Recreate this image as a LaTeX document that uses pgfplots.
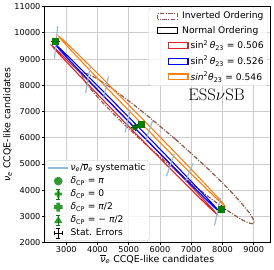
\documentclass[border=0pt]{standalone}
\usepackage{fontspec}
\usepackage{pgfplots}
\pgfplotsset{compat=1.18}
\newfontfamily\dejavu{DejaVu Sans}[ItalicFont={DejaVu Sans Oblique}]
\definecolor{mplred}{HTML}{D62728}
\definecolor{mplblue}{HTML}{0000FF}
\definecolor{mplorange}{HTML}{FF7F0E}
\definecolor{mplbrown}{HTML}{8C564B}
\definecolor{sysblue}{HTML}{8FBAD9}
\definecolor{mplgreen}{HTML}{008000}
\tikzset{ddot/.style={dash pattern=on 4.5pt off 1.5pt on 1pt off 1.5pt}}
\newcommand{\nub}{$\overline{\hbox{\itshape ν}}$\textsubscript{\itshape e}}
\newcommand{\nue}{{\itshape ν}\textsubscript{\itshape e}}
\newcommand{\dcp}{{\itshape δ}\textsubscript{CP}}
\newcommand{\bbA}{\path[draw=none,fill=none] (0pt,-4pt) (20pt,4pt);}
\newcommand{\bbB}{\path[draw=none,fill=none] (-7pt,-4pt) (31pt,4pt);}
\begin{document}
\begin{tikzpicture}
\begin{axis}[
  name=main,
  scale only axis, width=230.5pt, height=240.3pt,
  xmin=2290, xmax=9540, ymin=2000, ymax=11000,
  xtick={3000,4000,...,9000}, ytick={2000,3000,...,11000},
  grid=major, major grid style={black!20, line width=0.8pt},
  tick align=outside, tick pos=left, major tick length=2.5pt,
  axis line style={line width=0.8pt},
  every tick/.style={black, line width=0.8pt},
  ticklabel style={font=\dejavu\fontsize{8.3}{9}\selectfont, inner sep=1pt},
  /pgf/number format/assume math mode=true,
  /pgf/number format/1000 sep={},
  scaled ticks=false,
  xlabel={\nub\ CCQE-like candidates},
  ylabel={\nue\ CCQE-like candidates},
  label style={font=\dejavu\fontsize{9.6}{11}\selectfont},
  xlabel style={yshift=2pt},
  ylabel style={yshift=-2pt},
  legend style={at={(0.007,0.008)}, anchor=south west, draw=black!15, fill=white, fill opacity=0.8, text opacity=1, rounded corners=2pt,
    font=\dejavu\fontsize{9.3}{10}\selectfont, inner xsep=2pt, inner ysep=1.5pt, row sep=0.8pt},
  legend cell align=left,
]
% Inverted ordering (brown dash-dot)
\addplot[forget plot, mplbrown, line width=1.2pt, ddot, smooth] coordinates {
(6503,5935) (5430,7004) (4484,7858) (3807,8369) (3503,8457) (3617,8111) (4134,7380) (4972,6380)
(6007,5259) (7080,4190) (8026,3336) (8703,2825) (9007,2737) (8893,3083) (8376,3814) (7538,4814) (6503,5935)};
% sin^2 = 0.506 (red)
\addplot[forget plot, mplred, line width=1.1pt, smooth] coordinates {
(5210,6348) (4197,7574) (3335,8604) (2752,9286) (2538,9514) (2724,9254) (3285,8544) (4131,7496)
(5138,6265) (6151,5039) (7013,4009) (7596,3327) (7811,3099) (7625,3359) (7064,4069) (6217,5117) (5210,6348)};
% sin^2 = 0.526 (blue)
\addplot[forget plot, mplblue, line width=1.1pt, smooth] coordinates {
(5299,6424) (4287,7645) (3426,8672) (2844,9352) (2629,9578) (2816,9320) (3376,8612) (4221,7567)
(5227,6340) (6239,5118) (7100,4091) (7682,3412) (7896,3185) (7710,3444) (7150,4151) (6305,5196) (5299,6424)};
% sin^2 = 0.546 (orange)
\addplot[forget plot, mplorange, line width=1.1pt, smooth] coordinates {
(5463,6689) (4444,7921) (3574,8956) (2983,9640) (2764,9865) (2949,9600) (3510,8882) (4360,7825)
(5373,6585) (6392,5353) (7262,4318) (7853,3634) (8072,3409) (7887,3674) (7326,4392) (6476,5449) (5463,6689)};
% systematic segments
\addplot[forget plot, sysblue, line width=1.2pt] coordinates {(2726,10262) (2623,9017)};
\addplot[forget plot, sysblue, line width=1.2pt] coordinates {(3777,8766) (3620,7709)};
\addplot[forget plot, sysblue, line width=1.2pt] coordinates {(4352,8333) (4195,7522)};
\addplot[forget plot, sysblue, line width=1.2pt] coordinates {(5044,7073) (4887,6213)};
\addplot[forget plot, sysblue, line width=1.2pt] coordinates {(5768,6662) (5547,5914)};
\addplot[forget plot, sysblue, line width=1.2pt] coordinates {(6460,5391) (6208,4531)};
\addplot[forget plot, sysblue, line width=1.2pt] coordinates {(7057,5017) (6805,4307)};
\addplot[forget plot, sysblue, line width=1.2pt] coordinates {(7938,3709) (7749,2662)};
% stat errors
\addplot[forget plot, only marks, mark=none, black, error bars/.cd, x dir=both, y dir=both, x explicit, y explicit,
  error bar style={black, line width=0.5pt}, error mark=none]
  coordinates {(2645,9664) +- (140,140) (5202,6400) +- (140,140) (5390,6512) +- (140,140) (7969,3286) +- (140,140)};
% delta_CP points
\addplot[forget plot, only marks, mark=square*, mark size=3pt, mplgreen, mark options={draw=mplgreen, fill=mplgreen}] coordinates {(2645,9664) (5390,6512) (7969,3286)};
\addplot[forget plot, only marks, mark=*, mark size=2.8pt, mplgreen!85!black, mark options={draw=mplgreen!85!black, fill=mplgreen!85!black}] coordinates {(5202,6400)};
\node[font=\fontsize{17}{17}\selectfont] at (axis cs:7812,7630) {ESS$\nu$SB};
% legend (lower left)
\addlegendimage{sysblue, line width=1.2pt, legend image code/.code={\bbA \draw (0pt,0pt) -- (20pt,0pt);}}
\addlegendentry{\nue/\nub\ systematic}
\addlegendimage{legend image code/.code={\bbA \fill[mplgreen, draw=none] (10pt,0pt) circle (4.4pt);}}
\addlegendentry{\dcp\ = {\itshape π}}
\addlegendimage{legend image code/.code={\bbA
  \draw[mplgreen, line width=0.7pt, sharp corners] (10pt,-5pt) -- (10pt,5pt) (8pt,-5pt) -- (12pt,-5pt) (8pt,5pt) -- (12pt,5pt);
  \fill[mplgreen, draw=none, sharp corners] (8.6pt,-3.6pt) rectangle (11.4pt,3.6pt) (6.4pt,-1.4pt) rectangle (13.6pt,1.4pt);}}
\addlegendentry{\dcp\ = 0}
\addlegendimage{legend image code/.code={\bbA
  \fill[mplgreen, draw=none, sharp corners] (8pt,-4.5pt) rectangle (12pt,4.5pt) (5.5pt,-2pt) rectangle (14.5pt,2pt);}}
\addlegendentry{\dcp\ = {\itshape π}/2}
\addlegendimage{legend image code/.code={\bbA
  \draw[mplgreen, line width=0.7pt, sharp corners] (10pt,-5pt) -- (10pt,5pt) (8pt,-5pt) -- (12pt,-5pt) (8pt,5pt) -- (12pt,5pt);
  \fill[mplgreen, draw=none, sharp corners] (10pt,4pt) -- (14.2pt,-3pt) -- (5.8pt,-3pt) -- cycle;}}
\addlegendentry{\dcp\ = − {\itshape π}/2}
\addlegendimage{legend image code/.code={\bbA
  \draw[black, line width=0.7pt, sharp corners] (10pt,-5pt) -- (10pt,5pt) (8pt,-5pt) -- (12pt,-5pt) (8pt,5pt) -- (12pt,5pt)
   (6pt,0pt) -- (14pt,0pt) (6pt,-2pt) -- (6pt,2pt) (14pt,-2pt) -- (14pt,2pt);}}
\addlegendentry{Stat. Errors}
\end{axis}
\begin{axis}[
  scale only axis, width=230.5pt, height=240.3pt,
  xmin=2290, xmax=9540, ymin=2000, ymax=11000, hide axis,
  legend style={at={(0.9875,0.9946)}, anchor=north east, draw=black!15, fill=white, fill opacity=0.8, text opacity=1, rounded corners=2pt,
    font=\dejavu\fontsize{9.3}{10}\selectfont, inner xsep=2pt, inner ysep=2pt, row sep=1.9pt},
  legend cell align=left,
]
\addlegendimage{mplbrown, line width=1.2pt, ddot, legend image code/.code={\bbB \draw[sharp corners] (0pt,-3pt) rectangle (20pt,3pt);}}
\addlegendentry{\hspace*{-8.5pt}Inverted Ordering}
\addlegendimage{black, line width=1.3pt, legend image code/.code={\bbB \draw[sharp corners] (0pt,-3pt) rectangle (20pt,3pt);}}
\addlegendentry{\hspace*{-8.5pt}Normal Ordering}
\addlegendimage{mplred, line width=1.2pt, legend image code/.code={\bbB \draw[sharp corners] (11pt,-3pt) rectangle (31pt,3pt);}}
\addlegendentry{sin\textsuperscript{2}\,{\itshape θ}\textsubscript{23} = 0.506}
\addlegendimage{mplblue, line width=1.2pt, legend image code/.code={\bbB \draw[sharp corners] (11pt,-3pt) rectangle (31pt,3pt);}}
\addlegendentry{sin\textsuperscript{2}\,{\itshape θ}\textsubscript{23} = 0.526}
\addlegendimage{mplorange, line width=1.2pt, legend image code/.code={\bbB \draw[sharp corners] (11pt,-3pt) rectangle (31pt,3pt);}}
\addlegendentry{{\itshape sin}\textsuperscript{2}{\itshape θ}\textsubscript{23} = 0.546}
\end{axis}
\path (main.south west) ++(-40pt,-27pt);
\path (main.north east) ++(3.5pt,6.7pt);
\end{tikzpicture}
\end{document}
